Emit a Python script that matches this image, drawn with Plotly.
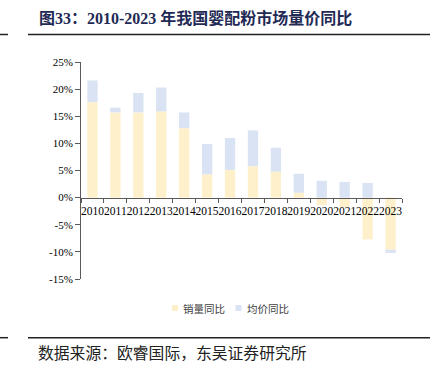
import plotly.graph_objects as go

years = ["2010", "2011", "2012", "2013", "2014", "2015", "2016",
         "2017", "2018", "2019", "2020", "2021", "2022", "2023"]
sales_yoy = [17.6, 15.7, 15.7, 15.9, 12.8, 4.3, 5.1, 5.8, 4.8, 0.9, -1.4, -1.8, -7.7, -9.6]
price_yoy = [4.0, 0.9, 3.6, 4.4, 2.9, 5.6, 5.9, 6.6, 4.4, 3.5, 3.1, 2.9, 2.7, -0.6]
y_tickvals = [-15, -10, -5, 0, 5, 10, 15, 20, 25]
y_ticktext = ["-15%", "-10%", "-5%", "0%", "5%", "10%", "15%", "20%", "25%"]
series_names = ["销量同比", "均价同比"]
series_colors = ["#FFF0CC", "#DAE3F3"]

title_text = "图33：2010-2023 年我国婴配粉市场量价同比"
source_text = "数据来源：欧睿国际，东吴证券研究所"

W, H = 434, 372
L, R, T, B = 81, 32, 62, 93
pw, ph = W - L - R, H - T - B

def px2x(x):
    return (x - L) / pw

def px2y(y):
    return (H - B - y) / ph

FONT = "Liberation Serif, Noto Sans CJK SC, serif"
AXC = "#595959"

fig = go.Figure()
for name, vals, col in zip(series_names, [sales_yoy, price_yoy], series_colors):
    fig.add_trace(go.Bar(x=years, y=vals, name=name, showlegend=False,
                         marker=dict(color=col, line=dict(width=0))))

ymin, ymax = y_tickvals[0], y_tickvals[-1]
zero_pos = (0 - ymin) / (ymax - ymin)

fig.update_layout(
    width=W, height=H, autosize=False,
    margin=dict(l=L, r=R, t=T, b=B, pad=0),
    paper_bgcolor="white", plot_bgcolor="white",
    barmode="relative", bargap=0.55,
    showlegend=False,
    font=dict(family=FONT, color="black"),
    xaxis=dict(type="category", anchor="free", position=zero_pos,
               showline=True, linecolor=AXC, linewidth=1,
               ticks="outside", tickson="boundaries", ticklen=4, tickcolor=AXC,
               ticklabelstandoff=3,
               tickfont=dict(family=FONT, size=11.5, color="black"),
               showgrid=False, zeroline=False, tickangle=0, automargin=False),
    yaxis=dict(range=[ymin, ymax], tickvals=y_tickvals, ticktext=y_ticktext,
               showline=True, linecolor=AXC, linewidth=1,
               ticks="outside", ticklen=5, tickcolor=AXC,
               tickfont=dict(family=FONT, size=11, color="black"),
               showgrid=False, zeroline=False, automargin=False),
)

# legend (swatch + label)
legend_items = [(172, 181), (235.5, 245)]
for (sx, tx), name, col in zip(legend_items, series_names, series_colors):
    fig.add_shape(type="rect", xref="paper", yref="paper",
                  x0=px2x(sx), x1=px2x(sx + 6), y0=px2y(305), y1=px2y(311),
                  fillcolor=col, line=dict(width=0))
    fig.add_annotation(text=name, xref="paper", yref="paper",
                       x=px2x(tx), y=px2y(308), xanchor="left", yanchor="middle",
                       showarrow=False,
                       font=dict(family="Noto Sans CJK SC", size=10.5, color="#404040"))

fig.add_annotation(text="<b>" + title_text + "</b>", xref="paper", yref="paper",
                   x=px2x(37), y=px2y(18), xanchor="left", yanchor="middle",
                   showarrow=False,
                   font=dict(family="Liberation Serif, Noto Sans CJK SC", size=16, color="#1F2A55"))
fig.add_annotation(text=source_text, xref="paper", yref="paper",
                   x=px2x(36), y=px2y(352), xanchor="left", yanchor="middle",
                   showarrow=False,
                   font=dict(family="Noto Sans CJK SC", size=15.8, color="#222222"))

for yy in (34.5, 337.7):
    for x0, x1 in ((0, 8), (28, 430)):
        fig.add_shape(type="line", xref="paper", yref="paper",
                      x0=px2x(x0), x1=px2x(x1), y0=px2y(yy), y1=px2y(yy),
                      line=dict(color="#222222", width=1.5))

fig.write_html("out.html", config={"displayModeBar": False},
               post_script="document.body.style.margin='0';document.body.style.overflow='hidden';")
